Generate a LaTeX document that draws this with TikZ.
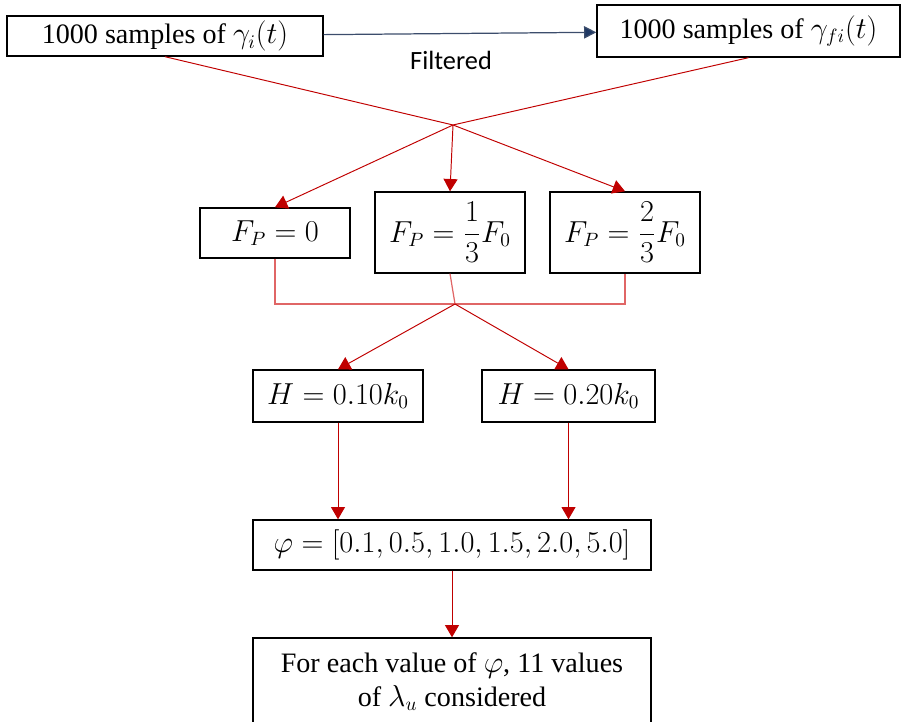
\documentclass[tikz,border=0pt]{standalone}
\usepackage{fontspec}
\usepackage{amsmath}
\setmainfont{Liberation Serif}
\newfontfamily\calfont{Carlito}
\usetikzlibrary{arrows.meta}
\definecolor{arrred}{HTML}{C00000}
\definecolor{brkred}{HTML}{E06666}
\definecolor{navyblue}{HTML}{1F3864}

\begin{document}
\begin{tikzpicture}
  [x=0.02cm,y=-0.02cm,
   every node/.style={draw,rectangle,line width=0.8pt,inner sep=2pt,
     font=\fontsize{16}{19}\selectfont,align=center},
   redarrow/.style={draw=arrred,line width=0.55pt,-{Triangle[length=7pt,width=8pt]}},
   redline/.style={draw=arrred,line width=0.55pt},
   brkline/.style={draw=brkred,line width=0.7pt}]
  \useasboundingbox (0,0) rectangle (905,722);

  \node [minimum width=6.32cm,minimum height=0.8cm] (s1) at (165,36) {1000 samples of $\gamma_i(t)$};
  \node [minimum width=6.06cm,minimum height=1.04cm] (s2) at (748.5,31) {1000 samples of $\gamma_{fi}(t)$};
  \node [draw=none,font=\calfont\fontsize{15}{18}\selectfont] (filt) at (451,60) {Filtered};

  \node [minimum width=3cm,minimum height=1cm] (f1) at (275,233) {$F_P = 0$};
  \node [minimum width=3cm,minimum height=1.62cm] (f2) at (450,232.5) {$F_P = \dfrac{1}{3}F_0$};
  \node [minimum width=3cm,minimum height=1.62cm] (f3) at (625,232.5) {$F_P = \dfrac{2}{3}F_0$};

  \node [minimum width=3.4cm,minimum height=1.04cm] (h1) at (338,396) {$H = 0.10k_0$};
  \node [minimum width=3.46cm,minimum height=1.04cm] (h2) at (568.5,396) {$H = 0.20k_0$};

  \node [minimum width=7.96cm,minimum height=1cm] (phi) at (452,545) {$\varphi = [0.1, 0.5, 1.0, 1.5, 2.0, 5.0]$};
  \node [minimum width=7.96cm,minimum height=1.76cm] (lam) at (452,682) {For each value of $\varphi$, 11 values\\ of $\lambda_u$ considered};

  \coordinate (x1) at (453,125);
  \coordinate (x2) at (455,304);

  \draw [draw=navyblue!70!gray,line width=0.7pt,-{Triangle[length=7pt,width=7pt,fill=navyblue]}] (s1) -- (s2);

  \draw [redline] (s1.south) -- (x1) -- (s2.south);
  \draw [brkline] (f1.south) |- (x2) -| (f3.south);
  \draw [brkline] (f2.south) -- (x2);

  \foreach \from/\to in {x1/f1.north,x1/f2.north,x1/f3.north,x2/h1.north,x2/h2.north,phi.south/lam.north}
    \draw [redarrow] (\from) -- (\to);

  \draw [redarrow] (h1.south) -- (h1.south |- phi.north);
  \draw [redarrow] (h2.south) -- (h2.south |- phi.north);

\end{tikzpicture}
\end{document}
